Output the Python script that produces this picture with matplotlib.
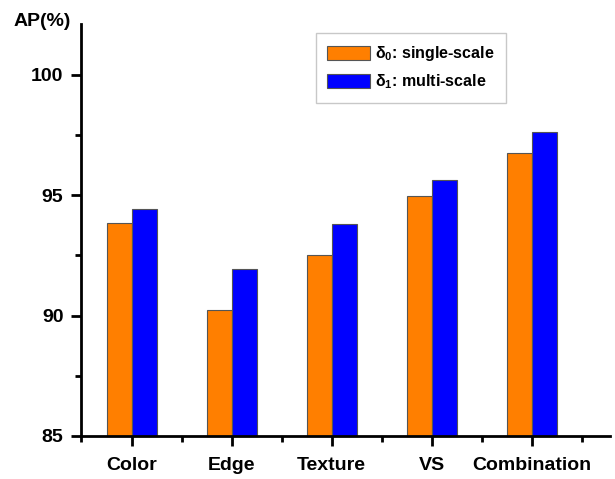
import matplotlib
matplotlib.use('Agg')
import matplotlib.pyplot as plt
from matplotlib.ticker import MultipleLocator
import numpy as np

plt.rcParams['font.family'] = ['Liberation Sans', 'DejaVu Sans']
plt.rcParams['font.weight'] = 'bold'
plt.rcParams['mathtext.fontset'] = 'custom'
plt.rcParams['mathtext.bf'] = 'Liberation Sans:bold'
plt.rcParams['mathtext.rm'] = 'Liberation Sans:bold'
plt.rcParams['mathtext.default'] = 'bf'

# data
categories = ['Color', 'Edge', 'Texture', 'VS', 'Combination']
single_scale = [93.82, 90.24, 92.51, 94.96, 96.75]
multi_scale = [94.43, 91.92, 93.78, 95.63, 97.63]

x = np.arange(1, len(categories) + 1)
w = 0.25

fig = plt.figure(figsize=(6.15, 4.79), dpi=100)
ax = fig.add_axes([0.1325, 0.0898, 0.8594, 0.8602])

ax.bar(x - w / 2, single_scale, w, color='#FF7F00',
       edgecolor='#555555', linewidth=0.8, label=r'$\delta_0$: single-scale')
ax.bar(x + w / 2, multi_scale, w, color='#0000FF',
       edgecolor='#555555', linewidth=0.8, label=r'$\delta_1$: multi-scale')

ax.set_xlim(0.5, 5.78)
ax.set_ylim(85, 102.1)
ax.set_xticks(x)
ax.set_xticklabels(categories)
ax.xaxis.set_minor_locator(MultipleLocator(1, offset=0.5))
ax.set_yticks([85, 90, 95, 100])
ax.yaxis.set_minor_locator(MultipleLocator(2.5))

for s in ['top', 'right']:
    ax.spines[s].set_visible(False)
for s in ['left', 'bottom']:
    ax.spines[s].set_linewidth(2)

ax.tick_params(axis='both', which='major', length=7, width=2, labelsize=14, pad=6)
ax.tick_params(axis='both', which='minor', length=4, width=2)
ax.tick_params(axis='x', which='major', pad=8)

fig.text(0.022, 0.955, 'AP(%)', fontsize=14, fontweight='bold', va='center')

leg = ax.legend(loc='upper left', bbox_to_anchor=(0.444, 0.978), fontsize=11.5,
                frameon=True, fancybox=False, edgecolor='#bbbbbb',
                handlelength=2.7, handleheight=1.0, borderpad=0.7,
                labelspacing=0.6, handletextpad=0.3, borderaxespad=0)
leg.get_frame().set_linewidth(1)

fig.savefig('out.png', dpi=100)
